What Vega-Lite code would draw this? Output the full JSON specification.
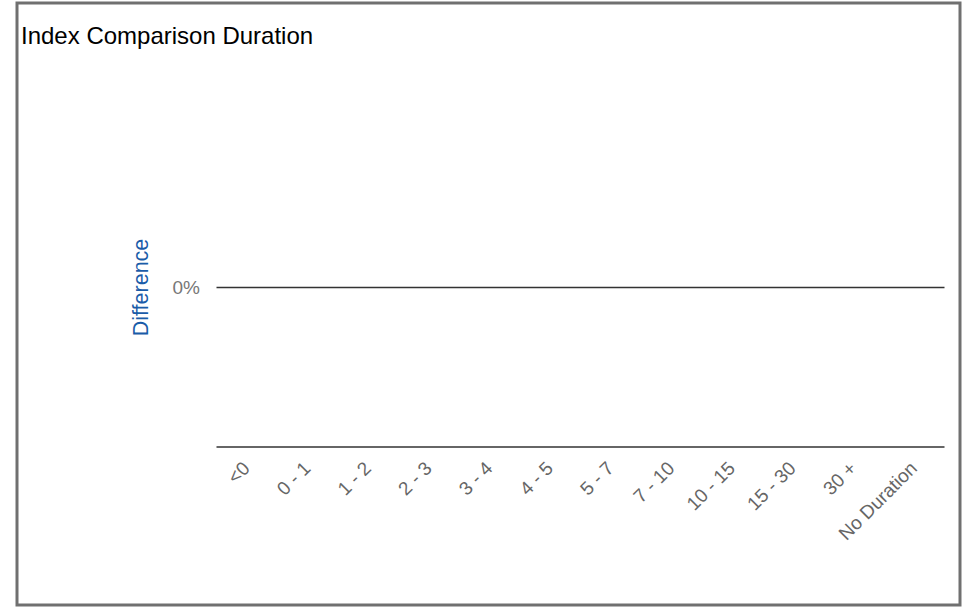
{
  "$schema": "https://vega.github.io/schema/vega-lite/v6.json",
  "autosize": {"type": "none"},
  "width": 943,
  "height": 602,
  "padding": {"left": 17, "top": 3, "right": 5, "bottom": 2},
  "background": "white",
  "title": {
    "text": "Index Comparison Duration",
    "anchor": "start",
    "frame": "group",
    "orient": "top",
    "font": "Liberation Sans",
    "fontSize": 24,
    "fontWeight": "normal",
    "color": "#000000",
    "baseline": "alphabetic",
    "offset": 0,
    "dx": 4,
    "dy": 65
  },
  "data": {
    "values": [
      {"duration": "<0", "difference": 0},
      {"duration": "0 - 1", "difference": 0},
      {"duration": "1 - 2", "difference": 0},
      {"duration": "2 - 3", "difference": 0},
      {"duration": "3 - 4", "difference": 0},
      {"duration": "4 - 5", "difference": 0},
      {"duration": "5 - 7", "difference": 0},
      {"duration": "7 - 10", "difference": 0},
      {"duration": "10 - 15", "difference": 0},
      {"duration": "15 - 30", "difference": 0},
      {"duration": "30 +", "difference": 0},
      {"duration": "No Duration", "difference": 0}
    ]
  },
  "mark": {"type": "bar", "color": "#1a5ca8"},
  "encoding": {
    "x": {
      "field": "duration",
      "type": "nominal",
      "sort": null,
      "scale": {"type": "band", "range": [199, 927], "paddingInner": 0.2, "paddingOuter": 0.1},
      "axis": {
        "title": null,
        "orient": "bottom",
        "offset": -158.5,
        "labelAngle": -45,
        "labelFont": "Liberation Sans",
        "labelFontSize": 19,
        "labelColor": "#666666",
        "labelPadding": 12,
        "labelOffset": -6,
        "ticks": false,
        "tickSize": 0,
        "domain": true,
        "domainColor": "#333333",
        "domainWidth": 1.5,
        "grid": false
      }
    },
    "y": {
      "field": "difference",
      "type": "quantitative",
      "scale": {"domain": [-1, 1], "range": [443.5, 124.5], "nice": false, "zero": false},
      "axis": {
        "title": "Difference",
        "titleFont": "Liberation Sans",
        "titleFontSize": 21.5,
        "titleFontWeight": "normal",
        "titleColor": "#1a5ca8",
        "titlePadding": 20,
        "orient": "left",
        "offset": -199,
        "values": [0],
        "format": "%",
        "labelFont": "Liberation Sans",
        "labelFontSize": 19,
        "labelColor": "#777777",
        "labelPadding": 16.5,
        "ticks": false,
        "tickSize": 0,
        "domain": false,
        "grid": true,
        "gridColor": "#333333",
        "gridWidth": 1.5,
        "gridOpacity": 1
      }
    }
  },
  "config": {
    "view": {"stroke": "#707070", "strokeWidth": 3, "fill": "white"}
  }
}
